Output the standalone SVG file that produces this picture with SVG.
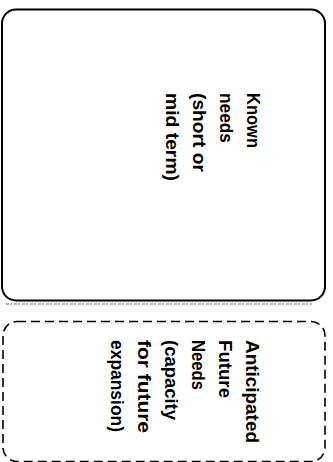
<svg xmlns="http://www.w3.org/2000/svg" width="333" height="462" viewBox="0 0 333 462">
<style>
.box{fill:#fff;stroke:#000;stroke-width:2}
.dash{fill:none;stroke:#000;stroke-width:1.6;stroke-dasharray:9 5}
.lbl{font-family:"Liberation Sans",Arial,sans-serif;font-weight:bold;font-size:18px;fill:#000}
</style>
<rect width="333" height="462" fill="#fff"/>
<g id="known">
<rect class="box" x="2" y="9.5" width="323" height="291" rx="14"/>
<line x1="6" y1="304" x2="312" y2="304" stroke="#999" stroke-width="1.5" stroke-dasharray="3 1 2 2"/>
<g transform="translate(247,93) rotate(90)">
<text class="lbl" x="0" y="0" textLength="55" lengthAdjust="spacingAndGlyphs">Known</text>
<text class="lbl" x="0" y="27" textLength="50" lengthAdjust="spacingAndGlyphs">needs</text>
<text class="lbl" x="0" y="54" textLength="79" lengthAdjust="spacingAndGlyphs">(short or</text>
<text class="lbl" x="0" y="81" textLength="88" lengthAdjust="spacingAndGlyphs">mid term)</text>
</g>
</g>
<g id="anticipated">
<rect class="dash" x="3" y="321.5" width="322" height="140" rx="14"/>
<g transform="translate(246,340) rotate(90)">
<text class="lbl" x="0" y="0" textLength="103" lengthAdjust="spacingAndGlyphs">Anticipated</text>
<text class="lbl" x="0" y="27" textLength="58" lengthAdjust="spacingAndGlyphs">Future</text>
<text class="lbl" x="0" y="54" textLength="50" lengthAdjust="spacingAndGlyphs">Needs</text>
<text class="lbl" x="0" y="81" textLength="80" lengthAdjust="spacingAndGlyphs">(capacity</text>
<text class="lbl" x="0" y="108" textLength="93" lengthAdjust="spacingAndGlyphs">for future</text>
<text class="lbl" x="0" y="135" textLength="92" lengthAdjust="spacingAndGlyphs">expansion)</text>
</g>
</g>
<g id="connectors"/>
</svg>
